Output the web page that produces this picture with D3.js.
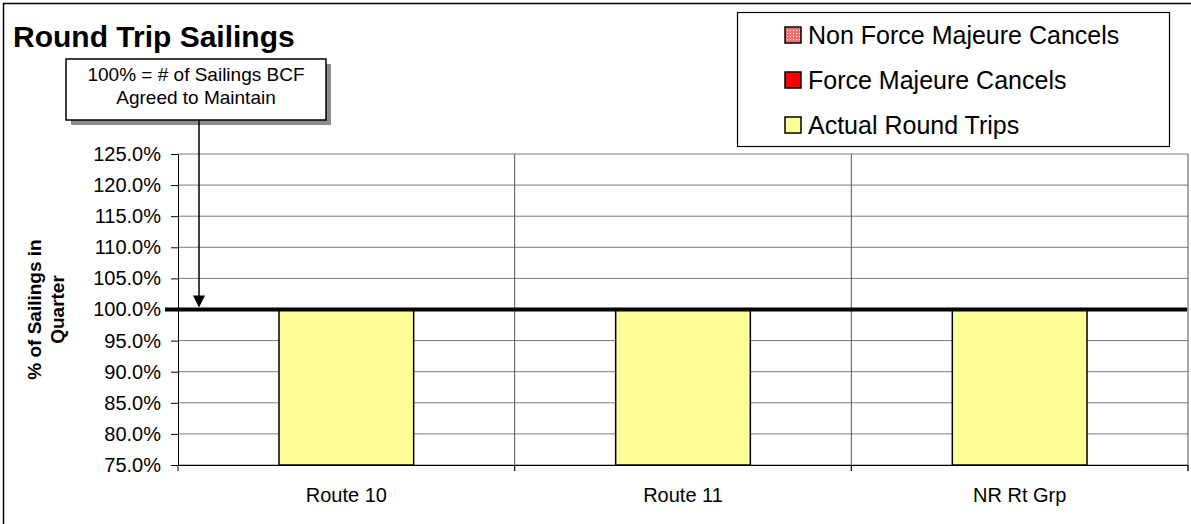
<!DOCTYPE html>
<html>
<head>
<meta charset="utf-8">
<script src="https://cdn.jsdelivr.net/npm/d3@7.9.0/dist/d3.min.js"></script>
<style>
  html, body { margin: 0; padding: 0; background: #fff; }
  svg { display: block; font-family: "Liberation Sans", Arial, sans-serif; }
</style>
</head>
<body>
<svg id="chart" width="1191" height="524"></svg>
<script>
const categories = ["Route 10", "Route 11", "NR Rt Grp"];
const actualTrips = [1.0, 1.0, 1.0];
const forceMajeure = [0, 0, 0];
const nonForceMajeure = [0, 0, 0];
const yTicks = [0.75, 0.80, 0.85, 0.90, 0.95, 1.00, 1.05, 1.10, 1.15, 1.20, 1.25];
const legendItems = ["Non Force Majeure Cancels", "Force Majeure Cancels", "Actual Round Trips"];
const target = 1.0;

const svg = d3.select("#chart");
const plot = { left: 178, right: 1188, top: 154, bottom: 465 };

const x = d3.scaleBand().domain(categories).range([plot.left, plot.right]).padding(0);
const y = d3.scaleLinear().domain([0.75, 1.25]).range([plot.bottom, plot.top]);

const defs = svg.append("defs");
const pat = defs.append("pattern")
  .attr("id", "nonfm")
  .attr("width", 3).attr("height", 3)
  .attr("patternUnits", "userSpaceOnUse");
pat.append("rect").attr("width", 3).attr("height", 3).attr("fill", "#f07070");
pat.append("rect").attr("x", 1).attr("y", 1).attr("width", 1).attr("height", 1).attr("fill", "#fff0f0");

// outer chart border (runs off the right and bottom edge)
svg.append("rect")
  .attr("x", 3.5).attr("y", 3.5)
  .attr("width", 1200).attr("height", 540)
  .attr("fill", "#fff").attr("stroke", "#000").attr("stroke-width", 1.5);

svg.append("text")
  .attr("x", 13).attr("y", 47)
  .attr("font-size", 30).attr("font-weight", "bold")
  .text("Round Trip Sailings");

// horizontal gridlines
svg.append("g")
  .selectAll("line")
  .data(yTicks)
  .join("line")
  .attr("x1", plot.left).attr("x2", plot.right)
  .attr("y1", d => y(d)).attr("y2", d => y(d))
  .attr("stroke", "#7a7a7a").attr("stroke-width", 1);

// vertical category gridlines
const bounds = categories.map(c => x(c)).concat([x.range()[1]]);
svg.append("g")
  .selectAll("line")
  .data(bounds.slice(1))
  .join("line")
  .attr("x1", d => d).attr("x2", d => d)
  .attr("y1", plot.top).attr("y2", plot.bottom + 6)
  .attr("stroke", "#555").attr("stroke-width", 1);

// stacked bars
const stackData = categories.map((c, i) => ({
  cat: c, actual: actualTrips[i], fm: forceMajeure[i], nfm: nonForceMajeure[i]
}));
const barW = x.bandwidth() * 0.4;
const bars = svg.append("g");
stackData.forEach(d => {
  const bx = x(d.cat) + (x.bandwidth() - barW) / 2;
  const segs = [
    { v0: 0.75, v1: d.actual, fill: "#ffff99" },
    { v0: d.actual, v1: d.actual + d.fm, fill: "#ff0000" },
    { v0: d.actual + d.fm, v1: d.actual + d.fm + d.nfm, fill: "url(#nonfm)" }
  ].filter(s => s.v1 > s.v0);
  bars.selectAll(null)
    .data(segs)
    .join("rect")
    .attr("x", bx).attr("width", barW)
    .attr("y", s => y(s.v1)).attr("height", s => y(s.v0) - y(s.v1))
    .attr("fill", s => s.fill)
    .attr("stroke", "#000").attr("stroke-width", 1.5);
});

// y axis
const yAxis = svg.append("g")
  .attr("transform", `translate(${plot.left},0)`)
  .call(d3.axisLeft(y).tickValues(yTicks).tickFormat(d3.format(".1%")).tickSize(7).tickSizeOuter(0).tickPadding(10));
yAxis.select(".domain").attr("stroke", "#000");
yAxis.selectAll(".tick line").attr("stroke", "#000");
yAxis.selectAll("text").attr("font-size", 20).attr("fill", "#000")
  .attr("font-family", "Liberation Sans, Arial, sans-serif");

// x axis
const xAxis = svg.append("g")
  .attr("transform", `translate(0,${plot.bottom})`)
  .call(d3.axisBottom(x).tickSize(0).tickSizeOuter(0).tickPadding(23));
xAxis.select(".domain").attr("stroke", "#000");
xAxis.selectAll("text").attr("font-size", 20).attr("fill", "#000")
  .attr("font-family", "Liberation Sans, Arial, sans-serif");
svg.append("g")
  .selectAll("line")
  .data(bounds)
  .join("line")
  .attr("x1", d => d).attr("x2", d => d)
  .attr("y1", plot.bottom).attr("y2", plot.bottom + 6)
  .attr("stroke", "#000");

// 100% target line
svg.append("line")
  .attr("x1", plot.left - 13).attr("x2", plot.right - 1)
  .attr("y1", y(target)).attr("y2", y(target))
  .attr("stroke", "#000").attr("stroke-width", 4);

// y axis title
const yTitle = svg.append("text")
  .attr("transform", `translate(0,${(plot.top + plot.bottom) / 2}) rotate(-90)`)
  .attr("text-anchor", "middle")
  .attr("font-size", 19).attr("font-weight", "bold");
yTitle.append("tspan").attr("x", 0).attr("y", 41).text("% of Sailings in");
yTitle.append("tspan").attr("x", 0).attr("y", 64).text("Quarter");

// callout
const call = { x: 66, y: 59, w: 260, h: 61, px: 199 };
svg.append("rect")
  .attr("x", call.x + 5).attr("y", call.y + 5)
  .attr("width", call.w).attr("height", call.h)
  .attr("fill", "#8c8c8c");
svg.append("rect")
  .attr("x", call.x).attr("y", call.y)
  .attr("width", call.w).attr("height", call.h)
  .attr("fill", "#fff").attr("stroke", "#000").attr("stroke-width", 1.5);
svg.append("text")
  .attr("x", call.x + call.w / 2).attr("y", call.y + 22)
  .attr("text-anchor", "middle").attr("font-size", 19)
  .text("100% = # of Sailings BCF");
svg.append("text")
  .attr("x", call.x + call.w / 2).attr("y", call.y + 45)
  .attr("text-anchor", "middle").attr("font-size", 19)
  .text("Agreed to Maintain");
const tipY = y(target) - 2;
svg.append("line")
  .attr("x1", call.px).attr("x2", call.px)
  .attr("y1", call.y + call.h).attr("y2", tipY - 10)
  .attr("stroke", "#000").attr("stroke-width", 1.5);
svg.append("path")
  .attr("d", `M${call.px - 6},${tipY - 12}L${call.px + 6},${tipY - 12}L${call.px},${tipY}Z`)
  .attr("fill", "#000");

// legend
const leg = svg.append("g");
leg.append("rect")
  .attr("x", 737.5).attr("y", 12.5)
  .attr("width", 432).attr("height", 134)
  .attr("fill", "#fff").attr("stroke", "#000").attr("stroke-width", 1.2);
const legFills = ["url(#nonfm)", "#ff0000", "#ffff99"];
const legY = d3.scalePoint().domain(legendItems).range([35, 125]);
const rows = leg.selectAll("g.row")
  .data(legendItems)
  .join("g")
  .attr("class", "row")
  .attr("transform", d => `translate(0,${legY(d)})`);
rows.append("rect")
  .attr("x", 785).attr("y", -8).attr("width", 16).attr("height", 16)
  .attr("fill", (d, i) => legFills[i])
  .attr("stroke", "#000").attr("stroke-width", 1.5);
rows.append("text")
  .attr("x", 808).attr("y", 9)
  .attr("font-size", 25)
  .text(d => d);
</script>
</body>
</html>
